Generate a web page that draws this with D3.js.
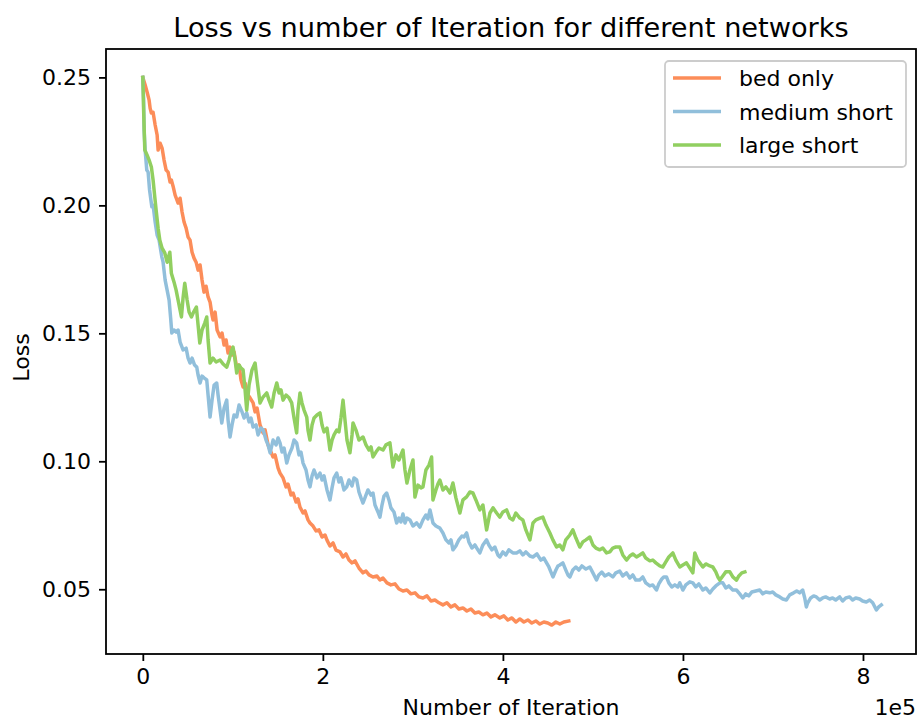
<!DOCTYPE html>
<html>
<head>
<meta charset="utf-8">
<script src="https://cdn.jsdelivr.net/npm/d3@7"></script>
<style>
  html, body { margin: 0; padding: 0; background: #fff; }
  svg { display: block; font-family: "DejaVu Sans", sans-serif; }
</style>
</head>
<body>
<svg id="chart" width="917" height="720"></svg>
<script>
// ---------- DATA (iterations in thousands, loss) ----------
const title = "Loss vs number of Iteration for different networks";
const xLabel = "Number of Iteration";
const yLabel = "Loss";
const xTickValues = [0, 200000, 400000, 600000, 800000];
const xTickLabels = ["0", "2", "4", "6", "8"];
const yTickValues = [0.05, 0.10, 0.15, 0.20, 0.25];
const yTickLabels = ["0.05", "0.10", "0.15", "0.20", "0.25"];
const seriesNames = ["bed only", "medium short", "large short"];
const seriesColors = ["#fc8d59", "#91bfdb", "#91cf60"];

const bedOnly = [
[0,0.2500],[2.6,0.2470],[4.8,0.2442],[7.0,0.2411],[8.1,0.2380],[9.5,0.2361],[11.4,0.2364],[13.7,0.2314],[15.9,0.2275],[17.0,0.2216],
[19.2,0.2243],[21.4,0.2224],[23.6,0.2177],[25.9,0.2138],[28.1,0.2130],[30.3,0.2091],[31.7,0.2099],[33.6,0.2075],[35.9,0.2040],[39.2,0.2009],
[41.4,0.2028],[43.6,0.1974],[45.8,0.1935],[48.1,0.1911],[50.3,0.1876],[52.5,0.1864],[54.7,0.1817],[56.9,0.1794],[59.2,0.1778],[61.4,0.1747],
[63.6,0.1767],[65.8,0.1708],[68.0,0.1661],[70.3,0.1684],[72.5,0.1642],[74.7,0.1622],[76.9,0.1571],[78.0,0.1552],[80.3,0.1583],[82.5,0.1513],
[85.8,0.1486],[88.0,0.1501],[90.3,0.1454],[92.5,0.1474],[94.7,0.1423],[96.9,0.1446],[99.1,0.1415],[101.4,0.1427],[104.7,0.1357],[106.9,0.1376],
[109.1,0.1318],[111.4,0.1290],[113.6,0.1306],[116.9,0.1259],[119.1,0.1248],[122.5,0.1228],[124.7,0.1193],[126.9,0.1208],[130.2,0.1142],[133.6,0.1111],
[135.8,0.1123],[139.1,0.1064],[141.4,0.1044],[144.7,0.1017],[146.9,0.1025],[150.2,0.0974],[152.4,0.0954],[155.8,0.0935],[159.1,0.0900],[161.3,0.0911],
[164.6,0.0868],[166.9,0.0876],[170.2,0.0841],[172.4,0.0853],[174.6,0.0821],[178.0,0.0798],[180.2,0.0806],[183.5,0.0771],[185.7,0.0759],[189.1,0.0747],
[192.4,0.0728],[195.7,0.0732],[199.1,0.0704],[202.4,0.0712],[204.6,0.0692],[207.9,0.0669],[211.3,0.0681],[214.6,0.0653],[219.0,0.0646],[222.4,0.0626],
[225.7,0.0638],[229.0,0.0614],[232.4,0.0603],[235.7,0.0611],[240.1,0.0583],[244.6,0.0564],[247.9,0.0571],[251.3,0.0556],[255.7,0.0548],[260.1,0.0552],
[263.4,0.0536],[266.8,0.0544],[271.2,0.0525],[275.6,0.0517],[280.1,0.0521],[284.5,0.0501],[289.0,0.0493],[293.4,0.0497],[297.9,0.0482],[302.3,0.0486],
[306.8,0.0470],[311.2,0.0466],[315.6,0.0474],[320.1,0.0454],[324.5,0.0458],[329.0,0.0447],[333.4,0.0439],[337.8,0.0447],[342.3,0.0431],[346.7,0.0439],
[351.1,0.0423],[355.6,0.0427],[360.0,0.0415],[364.5,0.0423],[368.9,0.0407],[373.3,0.0411],[377.8,0.0400],[382.2,0.0407],[386.7,0.0392],[391.1,0.0400],
[396.6,0.0388],[401.1,0.0396],[405.5,0.0380],[410.0,0.0388],[414.4,0.0372],[418.8,0.0384],[423.3,0.0372],[427.7,0.0380],[432.1,0.0368],[436.6,0.0376],
[441.0,0.0364],[445.5,0.0372],[449.9,0.0368],[454.3,0.0360],[458.8,0.0372],[463.2,0.0364],[467.7,0.0372],[473.2,0.0376]
];

const mediumShort = [
[0,0.2500],[0.9,0.2411],[1.4,0.2294],[2.6,0.2216],[4.4,0.2138],[5.9,0.2130],[7.5,0.2060],[10.0,0.1995],[11.4,0.2001],[13.7,0.1935],
[15.9,0.1884],[18.1,0.1864],[21.1,0.1799],[22.5,0.1779],[24.8,0.1708],[27.0,0.1669],[29.2,0.1630],[30.9,0.1560],[32.2,0.1501],[34.7,0.1513],
[37.0,0.1505],[39.2,0.1513],[41.4,0.1466],[44.7,0.1435],[48.1,0.1442],[50.3,0.1403],[52.5,0.1384],[54.7,0.1403],[57.5,0.1376],[59.9,0.1368],
[61.4,0.1337],[63.6,0.1306],[65.8,0.1333],[68.0,0.1326],[71.0,0.1318],[72.5,0.1259],[74.7,0.1173],[76.9,0.1239],[79.2,0.1298],[82.1,0.1306],
[83.6,0.1259],[85.8,0.1200],[87.7,0.1150],[90.3,0.1208],[93.2,0.1239],[94.7,0.1161],[96.9,0.1095],[99.1,0.1142],[101.4,0.1181],[104.3,0.1173],
[106.9,0.1220],[110.2,0.1193],[112.5,0.1169],[115.4,0.1189],[118.0,0.1154],[120.2,0.1169],[122.5,0.1134],[125.8,0.1142],[128.0,0.1103],[131.3,0.1130],
[133.6,0.1123],[136.9,0.1083],[139.1,0.1064],[141.4,0.1033],[144.7,0.1083],[148.0,0.1064],[150.2,0.1091],[152.4,0.1072],[154.7,0.1036],[156.9,0.1052],
[159.9,0.0993],[162.4,0.1025],[165.7,0.1052],[168.0,0.1083],[170.9,0.1072],[173.5,0.1025],[175.7,0.1036],[178.0,0.0993],[181.3,0.0966],[183.5,0.0927],
[185.7,0.0900],[188.0,0.0943],[190.2,0.0966],[193.5,0.0935],[196.8,0.0954],[199.1,0.0927],[201.3,0.0943],[204.6,0.0888],[207.9,0.0849],[210.2,0.0896],
[212.4,0.0935],[215.4,0.0954],[217.9,0.0919],[220.1,0.0935],[223.5,0.0888],[226.5,0.0900],[229.0,0.0927],[232.4,0.0904],[234.6,0.0935],[237.6,0.0927],
[240.1,0.0880],[242.4,0.0857],[244.6,0.0837],[247.9,0.0868],[250.1,0.0888],[253.5,0.0868],[255.7,0.0876],[257.9,0.0829],[261.2,0.0802],[263.4,0.0782],
[265.7,0.0829],[267.9,0.0864],[270.9,0.0876],[273.4,0.0849],[275.6,0.0818],[279.0,0.0802],[282.0,0.0759],[284.5,0.0778],[286.7,0.0763],[289.0,0.0794],
[291.2,0.0759],[293.4,0.0778],[296.7,0.0771],[300.1,0.0747],[304.2,0.0759],[307.8,0.0743],[311.2,0.0771],[314.5,0.0790],[316.7,0.0775],[319.0,0.0810],
[322.3,0.0759],[325.6,0.0747],[330.0,0.0739],[333.4,0.0720],[336.7,0.0693],[340.1,0.0681],[342.3,0.0693],[344.5,0.0654],[347.8,0.0669],[351.1,0.0693],
[354.5,0.0708],[356.7,0.0704],[359.7,0.0720],[362.2,0.0685],[365.6,0.0661],[368.9,0.0673],[372.2,0.0654],[374.4,0.0642],[377.8,0.0673],[381.9,0.0693],
[384.4,0.0673],[387.8,0.0654],[391.1,0.0665],[394.4,0.0634],[396.6,0.0626],[400.0,0.0646],[403.3,0.0634],[406.6,0.0654],[411.1,0.0642],[415.2,0.0642],
[418.8,0.0650],[422.2,0.0634],[425.5,0.0646],[430.0,0.0630],[433.4,0.0626],[437.8,0.0638],[442.2,0.0614],[445.5,0.0622],[448.5,0.0603],[451.1,0.0587],
[453.3,0.0568],[455.6,0.0548],[458.9,0.0575],[461.1,0.0591],[463.2,0.0595],[466.6,0.0603],[469.9,0.0575],[472.2,0.0556],[474.4,0.0548],[477.7,0.0575],
[481.1,0.0587],[484.4,0.0575],[487.7,0.0591],[492.2,0.0579],[496.6,0.0587],[500.0,0.0564],[504.0,0.0536],[506.5,0.0556],[509.9,0.0567],[513.2,0.0552],
[517.6,0.0560],[522.1,0.0548],[525.4,0.0564],[529.8,0.0571],[533.2,0.0552],[537.3,0.0564],[541.0,0.0544],[544.3,0.0556],[547.6,0.0536],[552.0,0.0536],
[555.4,0.0548],[558.7,0.0525],[563.2,0.0513],[566.5,0.0517],[570.6,0.0497],[573.2,0.0521],[576.5,0.0540],[578.7,0.0548],[581.7,0.0548],[584.3,0.0525],
[587.6,0.0509],[591.0,0.0517],[594.3,0.0509],[596.5,0.0525],[599.9,0.0497],[603.2,0.0517],[607.6,0.0529],[611.0,0.0525],[614.3,0.0509],[617.6,0.0521],
[622.1,0.0497],[625.4,0.0505],[629.9,0.0486],[633.2,0.0501],[636.5,0.0513],[641.0,0.0525],[644.3,0.0525],[647.6,0.0505],[651.0,0.0513],[655.4,0.0497],
[659.4,0.0497],[663.1,0.0482],[666.5,0.0466],[669.8,0.0482],[673.1,0.0474],[676.4,0.0489],[680.9,0.0493],[685.3,0.0497],[688.7,0.0482],[692.0,0.0489],
[696.4,0.0486],[699.8,0.0489],[703.1,0.0478],[707.5,0.0470],[710.9,0.0462],[714.9,0.0458],[718.6,0.0478],[723.0,0.0486],[726.4,0.0493],[729.7,0.0486],
[733.0,0.0497],[735.3,0.0466],[737.1,0.0431],[738.5,0.0446],[741.9,0.0466],[745.2,0.0474],[748.2,0.0470],[751.9,0.0458],[755.2,0.0466],[758.5,0.0470],
[763.0,0.0462],[766.3,0.0466],[769.7,0.0458],[774.1,0.0470],[777.4,0.0454],[780.8,0.0466],[785.2,0.0470],[788.5,0.0458],[791.9,0.0466],[796.3,0.0462],
[799.6,0.0454],[803.7,0.0450],[807.4,0.0458],[810.8,0.0447],[814.9,0.0419],[817.5,0.0431],[820.4,0.0439]
];

const largeShort = [
[0,0.2500],[0.9,0.2372],[2.2,0.2216],[4.8,0.2196],[7.0,0.2177],[9.5,0.2150],[11.4,0.2099],[13.3,0.2032],[14.8,0.1981],[17.0,0.1911],
[18.9,0.1864],[21.4,0.1833],[24.4,0.1814],[27.0,0.1778],[30.0,0.1817],[31.7,0.1735],[34.7,0.1700],[37.0,0.1669],[39.2,0.1630],[41.4,0.1591],
[42.9,0.1564],[44.7,0.1638],[46.6,0.1696],[49.2,0.1630],[51.4,0.1583],[54.0,0.1564],[56.4,0.1583],[59.5,0.1603],[61.4,0.1532],[63.3,0.1462],
[65.8,0.1513],[68.8,0.1540],[71.0,0.1564],[72.5,0.1474],[74.7,0.1384],[78.0,0.1403],[81.4,0.1388],[85.8,0.1396],[89.2,0.1380],[93.2,0.1368],
[95.8,0.1396],[98.0,0.1427],[100.2,0.1446],[102.5,0.1396],[104.3,0.1345],[106.9,0.1376],[109.1,0.1364],[111.4,0.1357],[113.6,0.1279],[115.4,0.1200],
[118.0,0.1298],[121.3,0.1357],[124.7,0.1384],[126.9,0.1318],[130.2,0.1228],[133.6,0.1251],[137.7,0.1267],[140.2,0.1239],[143.2,0.1212],[145.8,0.1267],
[148.8,0.1306],[151.3,0.1267],[153.5,0.1279],[155.8,0.1239],[159.1,0.1259],[162.4,0.1248],[165.4,0.1228],[168.0,0.1169],[170.9,0.1111],[172.4,0.1200],
[174.6,0.1267],[176.8,0.1228],[179.1,0.1200],[182.1,0.1173],[183.5,0.1122],[185.7,0.1083],[188.0,0.1142],[190.2,0.1169],[193.5,0.1181],[196.8,0.1189],
[199.1,0.1142],[201.3,0.1115],[204.6,0.1130],[207.9,0.1044],[210.2,0.1083],[212.4,0.1103],[215.4,0.1122],[217.9,0.1115],[220.1,0.1169],[222.4,0.1239],
[224.6,0.1161],[226.8,0.1083],[230.1,0.1033],[232.4,0.1103],[233.5,0.1150],[236.8,0.1122],[240.1,0.1083],[244.6,0.1095],[247.9,0.1064],[251.3,0.1044],
[253.5,0.1056],[255.7,0.1017],[259.0,0.1036],[262.3,0.1052],[266.8,0.1044],[270.1,0.1064],[274.5,0.1072],[277.9,0.0978],[281.2,0.1025],[284.5,0.1005],
[289.0,0.1044],[291.2,0.0966],[293.4,0.0915],[296.7,0.0966],[300.1,0.1005],[302.3,0.0860],[305.6,0.0907],[309.0,0.0896],[311.2,0.0900],[314.5,0.0966],
[317.9,0.0985],[320.8,0.1017],[322.3,0.0849],[325.6,0.0888],[327.8,0.0911],[330.0,0.0927],[333.4,0.0888],[336.7,0.0900],[341.2,0.0876],[344.5,0.0915],
[347.8,0.0857],[352.2,0.0798],[355.6,0.0849],[359.7,0.0861],[363.3,0.0880],[366.7,0.0876],[370.0,0.0849],[374.4,0.0810],[377.8,0.0829],[381.9,0.0732],
[385.6,0.0798],[389.0,0.0818],[393.0,0.0798],[396.6,0.0782],[400.0,0.0802],[404.1,0.0810],[407.7,0.0778],[411.1,0.0771],[414.4,0.0798],[418.8,0.0778],
[422.2,0.0771],[425.5,0.0732],[430.0,0.0693],[433.4,0.0759],[436.7,0.0771],[441.1,0.0778],[444.4,0.0782],[447.8,0.0751],[452.2,0.0720],[455.5,0.0693],
[459.6,0.0665],[463.2,0.0673],[466.6,0.0654],[469.9,0.0693],[474.4,0.0712],[477.7,0.0732],[481.1,0.0700],[485.4,0.0665],[488.8,0.0685],[492.2,0.0693],
[496.6,0.0704],[500.0,0.0673],[503.3,0.0661],[507.7,0.0654],[511.0,0.0661],[515.1,0.0642],[518.8,0.0646],[522.1,0.0661],[525.4,0.0665],[529.9,0.0665],
[533.2,0.0634],[537.3,0.0614],[541.0,0.0630],[544.3,0.0638],[548.4,0.0626],[552.0,0.0634],[555.4,0.0642],[558.7,0.0622],[563.2,0.0611],[566.5,0.0614],
[569.9,0.0603],[574.3,0.0591],[577.6,0.0587],[581.0,0.0607],[584.3,0.0626],[588.8,0.0642],[592.1,0.0614],[596.5,0.0587],[599.9,0.0595],[603.9,0.0603],
[607.6,0.0583],[611.0,0.0564],[613.2,0.0642],[616.5,0.0614],[618.8,0.0603],[622.1,0.0587],[625.4,0.0599],[629.9,0.0591],[633.2,0.0587],[636.5,0.0568],
[638.8,0.0548],[641.0,0.0536],[644.3,0.0552],[647.6,0.0568],[652.1,0.0568],[655.4,0.0548],[659.5,0.0536],[662.1,0.0552],[665.4,0.0564],[668.8,0.0568]
];

const seriesData = [bedOnly, mediumShort, largeShort];

// ---------- LAYOUT ----------
const svg = d3.select("#chart");
const plot = { left: 106, right: 916, top: 49, bottom: 654 };
const FONT = 22;

const x = d3.scaleLinear().domain([-40900, 858900]).range([plot.left, plot.right]);
const y = d3.scaleLinear().domain([0.0247, 0.2611]).range([plot.bottom, plot.top]);

// lines
const line = d3.line().x(d => x(d[0] * 1000)).y(d => y(d[1]));
svg.append("clipPath").attr("id", "clip").append("rect")
  .attr("x", plot.left).attr("y", plot.top)
  .attr("width", plot.right - plot.left).attr("height", plot.bottom - plot.top);
const gLines = svg.append("g").attr("clip-path", "url(#clip)");
seriesData.forEach((s, i) => {
  gLines.append("path").datum(s)
    .attr("d", line)
    .attr("fill", "none")
    .attr("stroke", seriesColors[i])
    .attr("stroke-width", 3.5)
    .attr("stroke-linejoin", "round")
    .attr("stroke-linecap", "square");
});

// axes
const xAxis = d3.axisBottom(x).tickValues(xTickValues)
  .tickFormat((d, i) => xTickLabels[i]).tickSize(7).tickPadding(7);
const yAxis = d3.axisLeft(y).tickValues(yTickValues)
  .tickFormat((d, i) => yTickLabels[i]).tickSize(7).tickPadding(8);

const gx = svg.append("g").attr("transform", `translate(0,${plot.bottom})`).call(xAxis);
const gy = svg.append("g").attr("transform", `translate(${plot.left},0)`).call(yAxis);
[gx, gy].forEach(g => {
  g.select(".domain").remove();
  g.selectAll(".tick line").attr("stroke", "#000").attr("stroke-width", 1.8);
  g.selectAll(".tick text").attr("fill", "#000")
    .style("font-family", "DejaVu Sans").style("font-size", FONT + "px");
});

// frame
svg.append("rect")
  .attr("x", plot.left).attr("y", plot.top)
  .attr("width", plot.right - plot.left).attr("height", plot.bottom - plot.top)
  .attr("fill", "none").attr("stroke", "#000").attr("stroke-width", 1.8);

// title & labels
svg.append("text").attr("x", (plot.left + plot.right) / 2).attr("y", 37)
  .attr("text-anchor", "middle").style("font-size", "27.2px").attr("fill", "#000")
  .text(title);
svg.append("text").attr("x", (plot.left + plot.right) / 2).attr("y", 715)
  .attr("text-anchor", "middle").style("font-size", FONT + "px").attr("fill", "#000")
  .text(xLabel);
svg.append("text").attr("transform", `translate(29,${(plot.top + plot.bottom) / 2 + 6}) rotate(-90)`)
  .attr("text-anchor", "middle").style("font-size", FONT + "px").attr("fill", "#000")
  .text(yLabel);
svg.append("text").attr("x", plot.right).attr("y", 715)
  .attr("text-anchor", "end").style("font-size", FONT + "px").attr("fill", "#000")
  .text("1e5");

// legend
const lg = svg.append("g");
lg.append("rect").attr("x", 665).attr("y", 61).attr("width", 241).attr("height", 106)
  .attr("rx", 4).attr("ry", 4)
  .attr("fill", "#fff").attr("fill-opacity", 0.8)
  .attr("stroke", "#cccccc").attr("stroke-width", 1.8);
seriesNames.forEach((name, i) => {
  const cy = 78 + i * 33.5;
  lg.append("line").attr("x1", 673).attr("x2", 721).attr("y1", cy).attr("y2", cy)
    .attr("stroke", seriesColors[i]).attr("stroke-width", 3.5);
  lg.append("text").attr("x", 739).attr("y", cy + 8)
    .style("font-size", FONT + "px").attr("fill", "#000").text(name);
});
</script>
</body>
</html>
